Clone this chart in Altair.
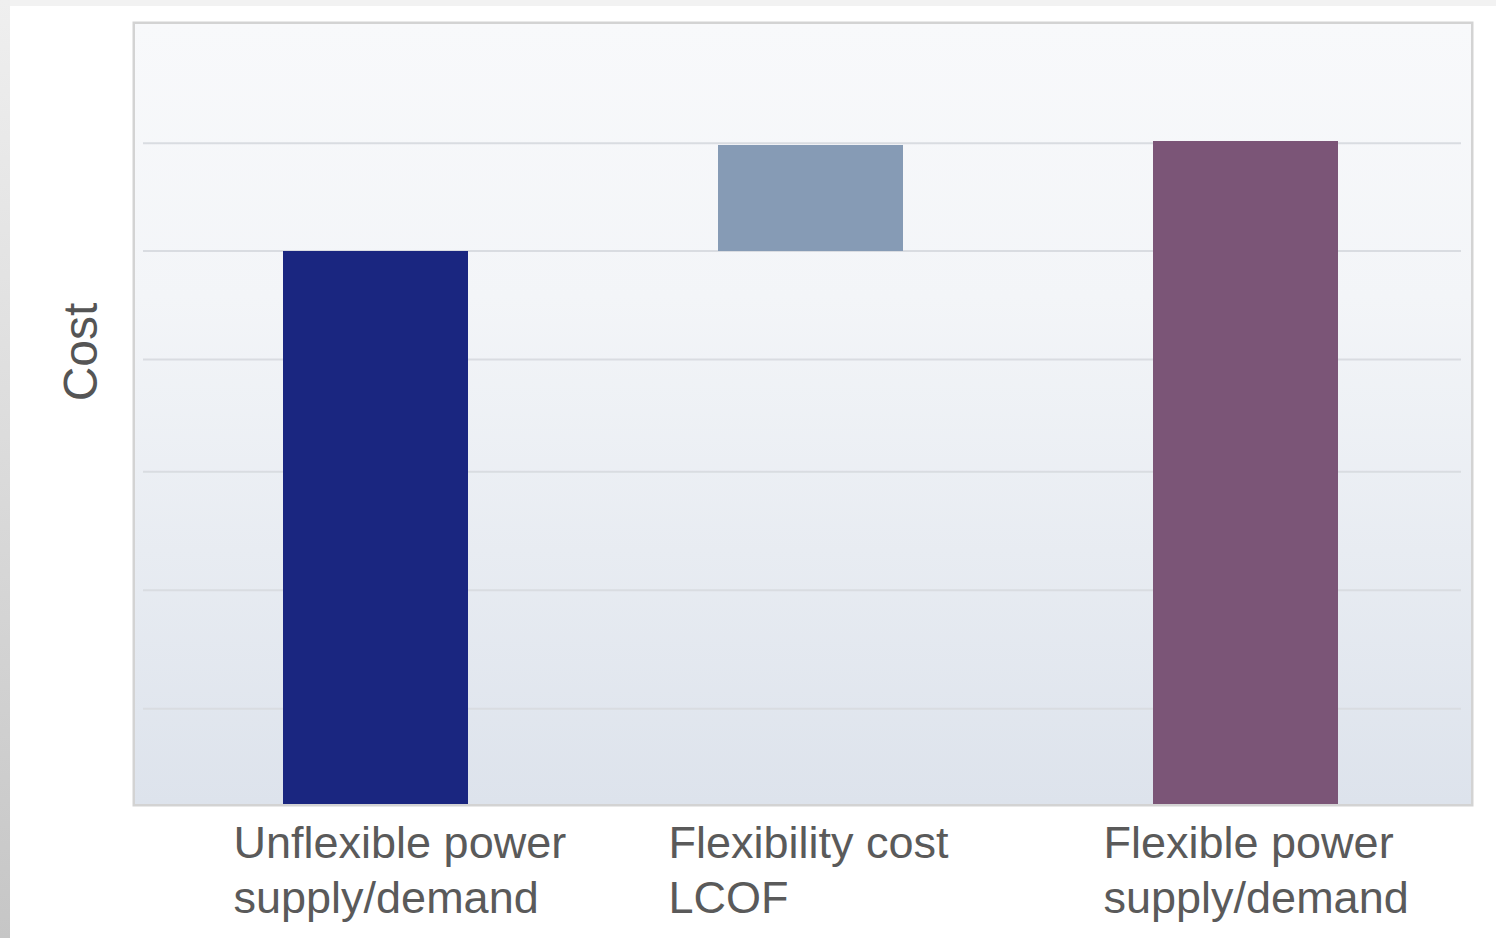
import altair as alt
import pandas as pd

# Waterfall: base cost, added flexibility cost, resulting total
categories = [
    "Unflexible power supply/demand",
    "Flexibility cost LCOF",
    "Flexible power supply/demand",
]
label_text = [
    "Unflexible power\nsupply/demand",
    "Flexibility cost\nLCOF",
    "Flexible power\nsupply/demand",
]
cost_values = [70.9, 13.6, 85.0]
is_increment = [False, True, False]
bar_colors = ["#1a2680", "#869bb5", "#7b5577"]
grid_levels = [12.2, 27.4, 42.6, 57.0, 70.9, 84.7]

W, H = 1336, 780

starts, ends = [], []
running = 0.0
for v, inc in zip(cost_values, is_increment):
    if inc:
        starts.append(running)
        ends.append(running + v)
        running += v
    else:
        starts.append(0.0)
        ends.append(v)
        running = v

bars_df = pd.DataFrame({"category": categories, "start": starts, "end": ends,
                        "label": label_text})
grid_df = pd.DataFrame({"level": grid_levels})
one = pd.DataFrame({"k": [0]})

x_scale = alt.Scale(domain=categories, range=[23, 1328], paddingInner=0, paddingOuter=0)
y_scale = alt.Scale(domain=[0, 100], nice=False, zero=True)

background = alt.Chart(one).mark_rect(
    color=alt.LinearGradient(
        gradient="linear", x1=0, y1=0, x2=0, y2=1,
        stops=[alt.GradientStop(color="#f8f9fb", offset=0),
               alt.GradientStop(color="#f3f5f8", offset=0.35),
               alt.GradientStop(color="#dde3ec", offset=1)],
    )
).encode(x=alt.value(0), x2=alt.value(W), y=alt.value(0), y2=alt.value(H))

left_strip = alt.Chart(one).mark_rect(
    color=alt.LinearGradient(
        gradient="linear", x1=0, y1=0, x2=0, y2=1,
        stops=[alt.GradientStop(color="#efefef", offset=0),
               alt.GradientStop(color="#c6c6c6", offset=1)],
    )
).encode(x=alt.value(-135), x2=alt.value(-125), y=alt.value(-24), y2=alt.value(914))

top_strip = alt.Chart(one).mark_rect(color="#f2f2f2").encode(
    x=alt.value(-125), x2=alt.value(W + 25), y=alt.value(-24), y2=alt.value(-18)
)

grid = alt.Chart(grid_df).mark_rule(color="#d9dce1", strokeWidth=2).encode(
    y=alt.Y("level:Q", scale=y_scale, axis=None),
    x=alt.value(8), x2=alt.value(W - 10),
)

bars = alt.Chart(bars_df).mark_bar(size=185, cornerRadius=0).encode(
    x=alt.X("category:N", scale=x_scale, axis=None, sort=categories),
    y=alt.Y("start:Q", scale=y_scale, axis=None),
    y2="end:Q",
    color=alt.Color("category:N", scale=alt.Scale(domain=categories, range=bar_colors),
                    legend=None),
)

labels = alt.Chart(bars_df).mark_text(
    align="left", baseline="top", dx=-142, fontSize=45, lineHeight=55,
    lineBreak="\n", font="Liberation Sans", color="#5a5a5a",
).encode(
    x=alt.X("category:N", scale=x_scale, axis=None, sort=categories),
    y=alt.value(H + 18),
    text="label:N",
)

y_title = alt.Chart(pd.DataFrame({"t": ["Cost"]})).mark_text(
    angle=270, align="center", baseline="middle", fontSize=48,
    font="Liberation Sans", color="#555555",
).encode(x=alt.value(-52), y=alt.value(328), text="t:N")

chart = alt.layer(
    left_strip, top_strip, background, grid, bars, labels, y_title
).properties(
    width=W, height=H,
    padding={"left": 135, "top": 24, "right": 25, "bottom": 134},
    autosize=alt.AutoSizeParams(type="none"),
    background="white",
).configure_view(stroke="#d3d3d3", strokeWidth=5)

chart.save("out.html", embed_options={"renderer": "svg", "actions": False})
